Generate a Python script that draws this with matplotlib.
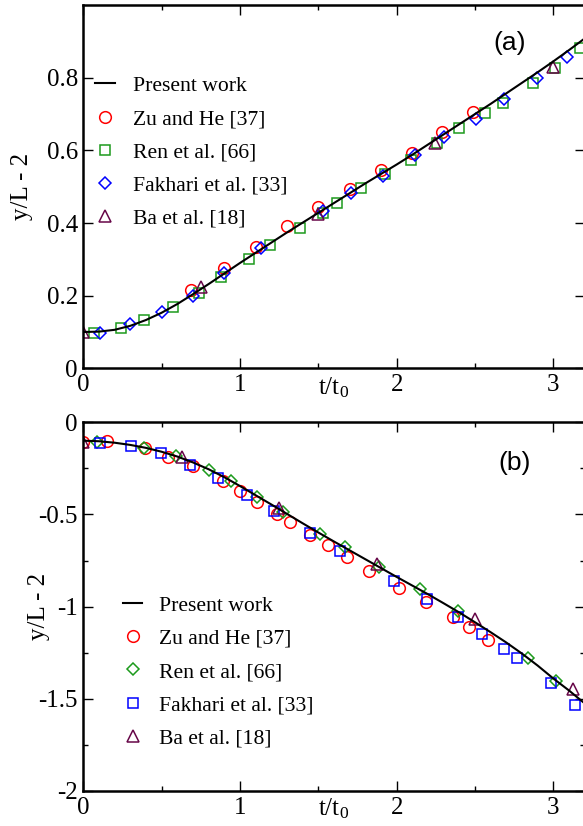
import matplotlib
matplotlib.use("Agg")
import matplotlib.pyplot as plt
from matplotlib.lines import Line2D
from matplotlib.ticker import MultipleLocator

plt.rcParams["font.family"] = ["Liberation Serif", "DejaVu Serif"]
plt.rcParams["mathtext.fontset"] = "custom"
plt.rcParams["mathtext.rm"] = "Liberation Serif"

# ---- panel (a): rising interface ----
line_a_t = [0.0, 0.1, 0.2, 0.3, 0.4, 0.5, 0.6, 0.7, 0.8, 0.9, 1.0, 1.1, 1.2, 1.3, 1.4, 1.5,
            1.6, 1.7, 1.8, 1.9, 2.0, 2.1, 2.2, 2.3, 2.4, 2.5, 2.6, 2.7, 2.8, 2.9, 3.0, 3.1, 3.2]
line_a_y = [0.100, 0.101, 0.106, 0.117, 0.133, 0.153, 0.177, 0.204, 0.232, 0.261, 0.290, 0.318,
            0.346, 0.374, 0.401, 0.428, 0.455, 0.482, 0.509, 0.535, 0.561, 0.588, 0.616, 0.644,
            0.672, 0.700, 0.728, 0.757, 0.786, 0.815, 0.845, 0.876, 0.908]

zu_a_t = [0.69, 0.90, 1.10, 1.30, 1.50, 1.70, 1.90, 2.10, 2.29, 2.49]
zu_a_y = [0.215, 0.277, 0.335, 0.392, 0.445, 0.494, 0.546, 0.593, 0.651, 0.706]

ren_a_t = [0.07, 0.24, 0.39, 0.57, 0.74, 0.88, 1.06, 1.19, 1.38, 1.53, 1.62, 1.77, 1.925,
           2.09, 2.255, 2.40, 2.565, 2.68, 2.87, 3.01, 3.167]
ren_a_y = [0.098, 0.110, 0.133, 0.168, 0.206, 0.250, 0.301, 0.339, 0.387, 0.427, 0.454, 0.495,
           0.534, 0.573, 0.619, 0.661, 0.702, 0.730, 0.786, 0.828, 0.882]

fak_a_t = [0.107, 0.30, 0.504, 0.70, 0.898, 1.132, 1.532, 1.706, 1.911, 2.117, 2.30, 2.506,
           2.683, 2.897, 3.087]
fak_a_y = [0.098, 0.121, 0.156, 0.200, 0.263, 0.330, 0.434, 0.482, 0.530, 0.587, 0.637, 0.685,
           0.740, 0.799, 0.856]

ba_a_t = [0.0, 0.75, 1.50, 2.245, 2.995]
ba_a_y = [0.100, 0.223, 0.424, 0.619, 0.830]

# ---- panel (b): falling interface ----
line_b_t = line_a_t
line_b_y = [-0.100, -0.103, -0.111, -0.123, -0.139, -0.160, -0.186, -0.218, -0.255, -0.298,
            -0.346, -0.396, -0.446, -0.497, -0.548, -0.598, -0.647, -0.695, -0.743, -0.791,
            -0.839, -0.886, -0.933, -0.982, -1.032, -1.085, -1.139, -1.195, -1.255, -1.320,
            -1.390, -1.455, -1.525]

zu_b_t = [0.0, 0.149, 0.395, 0.543, 0.702, 0.89, 1.0, 1.107, 1.235, 1.319, 1.447, 1.56, 1.681,
          1.825, 2.013, 2.187, 2.361, 2.463, 2.585]
zu_b_y = [-0.108, -0.103, -0.141, -0.186, -0.237, -0.320, -0.375, -0.433, -0.500, -0.539, -0.610,
          -0.666, -0.729, -0.805, -0.897, -0.976, -1.054, -1.109, -1.181]

ren_b_t = [0.09, 0.39, 0.593, 0.802, 0.944, 1.111, 1.276, 1.51, 1.67, 1.885, 2.149, 2.389,
           2.836, 3.017]
ren_b_y = [-0.105, -0.137, -0.185, -0.257, -0.320, -0.405, -0.488, -0.606, -0.678, -0.787,
           -0.906, -1.024, -1.280, -1.403]

fak_b_t = [0.106, 0.305, 0.493, 0.682, 0.859, 1.042, 1.216, 1.447, 1.638, 1.985, 2.191, 2.391,
           2.542, 2.686, 2.768, 2.983, 3.140]
fak_b_y = [-0.114, -0.128, -0.168, -0.233, -0.304, -0.392, -0.481, -0.602, -0.698, -0.861,
           -0.960, -1.056, -1.150, -1.230, -1.280, -1.416, -1.535]

ba_b_t = [0.0, 0.628, 1.251, 1.872, 2.50, 3.125]
ba_b_y = [-0.105, -0.186, -0.463, -0.769, -1.069, -1.448]

RED = "#ff0000"
GREEN = "#1c9a1c"
BLUE = "#0000ff"
MAROON = "#670748"

# marker sizes per symbol, chosen to look like the original
SIZES = {"o": 8.4, "s": 6.8, "D": 6.2, "^": 8.6}
MEW = 1.1


def style_axes(ax):
    for s in ax.spines.values():
        s.set_linewidth(1.8)
    ax.tick_params(which="both", direction="in", top=True, right=True, labelsize=18,
                   width=1.0, pad=4)
    ax.tick_params(which="major", length=7)
    ax.tick_params(which="minor", length=3.5)
    ax.set_xlim(0, 3.2)
    ax.set_xticks([0, 1, 2, 3])
    ax.xaxis.set_minor_locator(MultipleLocator(0.5))


def open_marker(ax, t, y, marker, color):
    ax.plot(t, y, linestyle="none", marker=marker, markersize=SIZES[marker],
            markerfacecolor="none", markeredgecolor=color, markeredgewidth=MEW, zorder=2)


def handle(marker, color, label):
    return Line2D([0], [0], linestyle="none", marker=marker, markersize=SIZES[marker],
                  markerfacecolor="none", markeredgecolor=color, markeredgewidth=MEW,
                  label=label)


fig = plt.figure(figsize=(5.83, 8.26), dpi=100)
ax1 = fig.add_axes([0.1429, 0.5541, 0.860, 0.4398])
ax2 = fig.add_axes([0.1429, 0.0424, 0.860, 0.4464])

# panel (a)
ax1.plot(line_a_t, line_a_y, color="black", linewidth=1.5, zorder=3)
open_marker(ax1, zu_a_t, zu_a_y, "o", RED)
open_marker(ax1, ren_a_t, ren_a_y, "s", GREEN)
open_marker(ax1, fak_a_t, fak_a_y, "D", BLUE)
open_marker(ax1, ba_a_t, ba_a_y, "^", MAROON)
style_axes(ax1)
ax1.set_ylim(0, 1.0)
ax1.set_yticks([0, 0.2, 0.4, 0.6, 0.8])
ax1.set_yticklabels(["0", "0.2", "0.4", "0.6", "0.8"])
ax1.set_ylabel("y/L - 2", fontsize=18)
ax1.yaxis.set_label_coords(-0.100, 0.5)
ax1.set_xlabel(r"t/t$\mathregular{_0}$", fontsize=18)
ax1.xaxis.set_label_coords(0.5, -0.02)
ax1.text(2.72, 0.896, "(a)", fontsize=19, family="Liberation Sans", ha="center", va="center")

h_a = [
    Line2D([0], [0], color="black", linewidth=1.5, label="Present work"),
    handle("o", RED, "Zu and He [37]"),
    handle("s", GREEN, "Ren et al. [66]"),
    handle("D", BLUE, "Fakhari et al. [33]"),
    handle("^", MAROON, "Ba et al. [18]"),
]
ax1.legend(handles=h_a, loc="upper left", bbox_to_anchor=(0.023, 0.805), frameon=False,
           fontsize=15.6, handlelength=0.95, handletextpad=0.8, labelspacing=0.6,
           borderpad=0, borderaxespad=0)

# panel (b)
ax2.plot(line_b_t, line_b_y, color="black", linewidth=1.5, zorder=3)
open_marker(ax2, zu_b_t, zu_b_y, "o", RED)
open_marker(ax2, ren_b_t, ren_b_y, "D", GREEN)
open_marker(ax2, fak_b_t, fak_b_y, "s", BLUE)
open_marker(ax2, ba_b_t, ba_b_y, "^", MAROON)
style_axes(ax2)
ax2.set_ylim(-2, 0)
ax2.set_yticks([-2, -1.5, -1, -0.5, 0])
ax2.set_yticklabels(["-2", "-1.5", "-1", "-0.5", "0"])
ax2.yaxis.set_minor_locator(MultipleLocator(0.25))
ax2.set_ylabel("y/L - 2", fontsize=18)
ax2.yaxis.set_label_coords(-0.066, 0.5)
ax2.set_xlabel(r"t/t$\mathregular{_0}$", fontsize=18)
ax2.xaxis.set_label_coords(0.5, -0.015)
ax2.text(2.755, -0.222, "(b)", fontsize=19, family="Liberation Sans", ha="center", va="center")

h_b = [
    Line2D([0], [0], color="black", linewidth=1.5, label="Present work"),
    handle("o", RED, "Zu and He [37]"),
    handle("D", GREEN, "Ren et al. [66]"),
    handle("s", BLUE, "Fakhari et al. [33]"),
    handle("^", MAROON, "Ba et al. [18]"),
]
ax2.legend(handles=h_b, loc="upper left", bbox_to_anchor=(0.079, 0.530), frameon=False,
           fontsize=15.6, handlelength=0.9, handletextpad=0.78, labelspacing=0.6,
           borderpad=0, borderaxespad=0)

fig.savefig("out.png", dpi=100)
